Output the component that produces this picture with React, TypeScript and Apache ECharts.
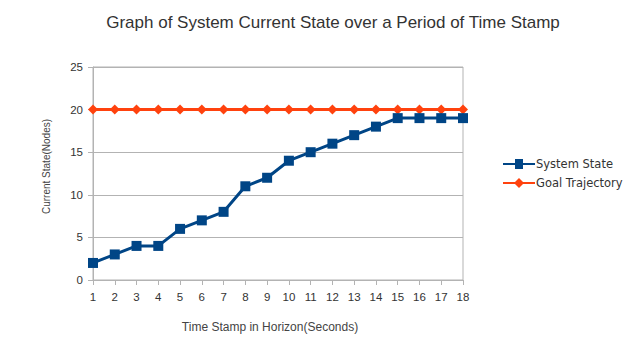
import React, { useEffect, useRef } from "react";
import * as echarts from "echarts";

const categories = ["1","2","3","4","5","6","7","8","9","10","11","12","13","14","15","16","17","18"];
const systemState = [2,3,4,4,6,7,8,11,12,14,15,16,17,18,19,19,19,19];
const goalTrajectory = [20,20,20,20,20,20,20,20,20,20,20,20,20,20,20,20,20,20];

export default function App() {
  const ref = useRef<HTMLDivElement>(null);
  useEffect(() => {
    const chart = echarts.init(ref.current!, null, { renderer: "svg" });
    const font = "Liberation Sans";
    chart.setOption({
      animation: false,
      backgroundColor: "#ffffff",
      title: {
        text: "Graph of System Current State over a Period of Time Stamp",
        left: 328,
        textAlign: "center",
        top: 9,
        textStyle: { fontFamily: font, fontSize: 17, fontWeight: "normal", color: "#333333" },
      },
      legend: {
        orient: "vertical",
        left: 498,
        top: 153,
        itemGap: 7,
        itemWidth: 32,
        itemHeight: 10,
        textStyle: { fontFamily: "DejaVu Sans", fontSize: 11.5, color: "#333333", padding: [0, 0, 0, -4] },
        data: [
          { name: "System State", icon: "path://M0,4h12v-4h8v4h12v2h-12v4h-8v-4h-12z" },
          { name: "Goal Trajectory", icon: "path://M0,4h12l4,-4l4,4h12v2h-12l-4,4l-4,-4h-12z" },
        ],
      },
      grid: {
        left: 93, right: 181, top: 67, bottom: 71,
        show: true, borderColor: "#b3b3b3", borderWidth: 1,
      },
      xAxis: {
        type: "category",
        data: categories,
        boundaryGap: false,
        name: "Time Stamp in Horizon(Seconds)",
        nameLocation: "middle",
        nameGap: 41,
        nameTextStyle: { fontFamily: font, fontSize: 12, color: "#444444", padding: [0, 16, 0, 0] },
        axisLine: { lineStyle: { color: "#b3b3b3" } },
        axisTick: { show: true, alignWithLabel: true, length: 5, lineStyle: { color: "#b3b3b3" } },
        axisLabel: { fontFamily: font, fontSize: 11.5, color: "#333333", margin: 11 },
        splitLine: { show: false },
      },
      yAxis: {
        type: "value",
        min: 0, max: 25, interval: 5,
        name: "Current State(Nodes)",
        nameLocation: "middle",
        nameGap: 42,
        nameTextStyle: { fontFamily: font, fontSize: 10, color: "#444444", padding: [0, 0, 0, 14] },
        axisLine: { show: true, lineStyle: { color: "#b3b3b3" } },
        axisTick: { show: true, length: 5, lineStyle: { color: "#b3b3b3" } },
        axisLabel: { fontFamily: font, fontSize: 11.5, color: "#333333", margin: 10 },
        splitLine: { lineStyle: { color: "#b3b3b3" } },
      },
      series: [
        {
          name: "System State",
          type: "line",
          data: systemState,
          color: "#004586",
          symbol: "rect",
          symbolSize: 10,
          lineStyle: { width: 3, color: "#004586" },
          itemStyle: { color: "#004586" },
          z: 3,
        },
        {
          name: "Goal Trajectory",
          type: "line",
          data: goalTrajectory,
          color: "#ff420e",
          symbol: "diamond",
          symbolSize: 10,
          lineStyle: { width: 3, color: "#ff420e" },
          itemStyle: { color: "#ff420e" },
          z: 2,
        },
      ],
    });
    return () => chart.dispose();
  }, []);
  return (
    <div
      ref={ref}
      style={{ position: "absolute", left: 0, top: 0, width: 644, height: 351 }}
    />
  );
}
